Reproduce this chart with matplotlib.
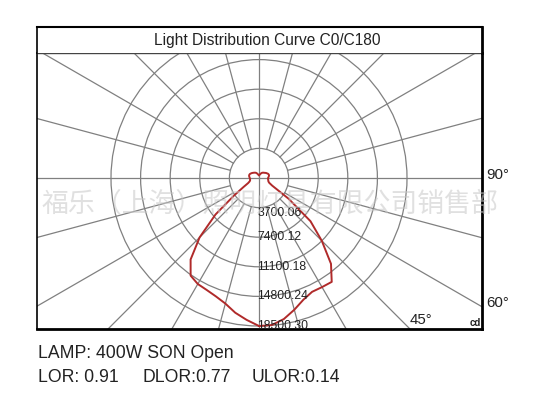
import matplotlib
matplotlib.use('Agg')
import matplotlib.pyplot as plt
from matplotlib.patches import Circle
import numpy as np

# ---------------- data ----------------
title = "Light Distribution Curve C0/C180"
ring_values = [3700.06, 7400.12, 11100.18, 14800.24, 18500.30]
ring_labels = ["3700.06", "7400.12", "11100.18", "14800.24", "18500.30"]
gamma = list(range(0, 181, 5))
# right half (C0), candela
c0 = [18500, 18450, 17900, 17050, 16200, 15700, 15750, 15850, 14000, 11100,
      8400, 4500, 1900, 1400, 1250, 1200, 1160, 1130, 1130, 1190, 1250, 1300,
      1290, 1250, 1160, 1090, 1000, 920, 870, 810, 750, 650, 560, 470, 400, 350, 310]
# left half (C180), candela
c180 = [18500, 17800, 17100, 16250, 15750, 15450, 15300, 14900, 13300, 10500,
        7100, 3800, 2200, 1500, 1250, 1150, 1130, 1130, 1150, 1200, 1250, 1280,
        1270, 1230, 1150, 1080, 1000, 930, 870, 810, 750, 650, 560, 470, 400, 350, 310]
angle_labels = ["90°", "60°", "45°"]
info_line1 = "LAMP: 400W SON Open"
info_line2 = ["LOR: 0.91", "DLOR:0.77", "ULOR:0.14"]
watermark = "福乐（上海）照明灯具有限公司销售部"

# ---------------- layout ----------------
W, H = 541, 399
fig = plt.figure(figsize=(W / 100, H / 100), dpi=100)
fig.patch.set_facecolor('white')

CX, CY = 259, 178          # polar centre in pixels
FL, FR, FT, FS, FB = 37, 482, 27, 53, 329   # frame left/right/top/separator/bottom
CDPX = ring_values[0] / 29.6  # cd per pixel

ax = fig.add_axes([FL / W, 1 - FB / H, (FR - FL) / W, (FB - FS) / H])
ax.set_xlim(-(CX - FL) * CDPX, (FR - CX) * CDPX)
ax.set_ylim(-(FB - CY) * CDPX, (CY - FS) * CDPX)
ax.set_xticks([]); ax.set_yticks([])

gridc = '#808080'
glw = 0.9
for rv in ring_values:
    ax.add_patch(Circle((0, 0), rv, fill=False, ec=gridc, lw=glw, zorder=1))
R = 80000
for a in range(0, 360, 15):
    t = np.deg2rad(a)
    r0 = 0 if a % 90 == 0 else ring_values[0]
    ax.plot([r0 * np.cos(t), R * np.cos(t)], [r0 * np.sin(t), R * np.sin(t)],
            color=gridc, lw=glw, zorder=1)

# curve
g = np.deg2rad(np.array(gamma))
xr = np.array(c0) * np.sin(g)
yr = -np.array(c0) * np.cos(g)
xl = -np.array(c180)[::-1] * np.sin(g[::-1])
yl = -np.array(c180)[::-1] * np.cos(g[::-1])
xs = np.concatenate([xr, xl])
ys = np.concatenate([yr, yl])
ax.plot(xs, ys, color='#b02a2a', lw=1.4, zorder=3, solid_joinstyle='round')

# ring labels
fam = ['Liberation Sans', 'DejaVu Sans']
for i, (rv, lab) in enumerate(zip(ring_values, ring_labels)):
    off = -5 * CDPX if i == 0 else 0
    ax.text(-1.5 * CDPX, -rv + off, lab, ha='left', va='center', fontsize=8.8,
            color='#222222', family=fam, zorder=4, clip_on=False)

# spines
for s in ['left', 'top']:
    ax.spines[s].set_linewidth(1.2)
for s in ['right', 'bottom']:
    ax.spines[s].set_linewidth(2.0)
ax.spines['top'].set_color('#444444')
ax.spines['top'].set_linewidth(1.0)

# title box
tax = fig.add_axes([FL / W, 1 - FS / H, (FR - FL) / W, (FS - FT) / H])
tax.set_xticks([]); tax.set_yticks([])
tax.set_xlim(0, 1); tax.set_ylim(0, 1)
tax.spines['left'].set_linewidth(1.2)
tax.spines['top'].set_linewidth(1.5)
tax.spines['right'].set_linewidth(2.0)
tax.spines['bottom'].set_visible(False)
fig.text(267 / W, 1 - 40 / H, title, ha='center', va='center', fontsize=11.2,
         color='#222222', family=fam)

# angle labels
fig.text(486 / W, 1 - 175 / H, angle_labels[0], ha='left', va='center',
         fontsize=10.8, color='#222222', family=fam)
fig.text(486 / W, 1 - 303 / H, angle_labels[1], ha='left', va='center',
         fontsize=10.8, color='#222222', family=fam)
fig.text(410 / W, 1 - 320 / H, angle_labels[2], ha='left', va='center',
         fontsize=10.8, color='#222222', family=fam, zorder=5)
fig.text(481 / W, 1 - 323 / H, "cd", ha='right', va='center',
         fontsize=7, color='#222222', family=fam, weight='bold')

# watermark
fig.text(42 / W, 1 - 204 / H, watermark, ha='left', va='center', fontsize=19.4,
         color='#c8c8c8', alpha=0.55,
         family=['Noto Sans CJK SC', 'DejaVu Sans'], zorder=10)

# info text
fig.text(38 / W, 1 - 358 / H, info_line1, ha='left', va='baseline',
         fontsize=12.7, color='#222222', family=fam)
for xp, s in zip([38, 143, 252], info_line2):
    fig.text(xp / W, 1 - 382 / H, s, ha='left', va='baseline',
             fontsize=12.7, color='#222222', family=fam)

fig.savefig('out.png', dpi=100, facecolor='white')
